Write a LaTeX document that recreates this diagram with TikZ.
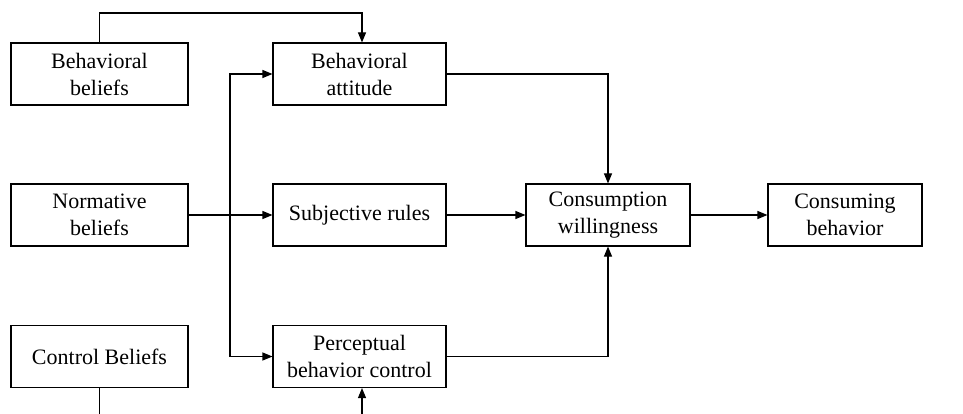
\documentclass[tikz,border=0pt]{standalone}
\usepackage{fontspec}
\setmainfont{Liberation Serif}
\usetikzlibrary{arrows.meta,calc}
\begin{document}
\begin{tikzpicture}[x=1pt,y=-1pt,
  box/.style={draw,line width=1.1pt,inner sep=0pt,align=center,
    font=\fontsize{22}{27}\selectfont},
  conn/.style={line width=1.1pt},
  arr/.style={conn,-{Triangle[length=10pt,width=8pt]}}]
\useasboundingbox (0,0) rectangle (963,414);
\node[box,minimum width=177pt,minimum height=62pt] (BB) at (99.5,74) {Behavioral\\beliefs};
\node[box,minimum width=177pt,minimum height=62pt] (NB) at (99.5,215) {Normative\\beliefs};
\node[box,minimum width=177pt,minimum height=62pt] (CB) at (99.5,356.5) {Control Beliefs};
\node[box,minimum width=173pt,minimum height=62pt] (BA) at (359.5,74) {Behavioral\\attitude};
\node[box,minimum width=173pt,minimum height=62pt] (SR) at (359.5,215) {Subjective rules};
\node[box,minimum width=173pt,minimum height=62pt] (PBC) at (359.5,356.5) {Perceptual\\behavior control};
\node[box,minimum width=164pt,minimum height=62pt] (CW) at (608,215) {Consumption\\willingness};
\node[box,minimum width=154pt,minimum height=62pt] (CBh) at (845,215) {Consuming\\behavior};
\coordinate (top) at (0,13);
\coordinate (j) at (230,215);
\coordinate (cbot) at (99.5,414);
\coordinate (pbot) at (362,414);
\draw[arr] (BB.north) -- (BB.north |- top) -| ($(BA.north)+(2.5,0)$);
\draw[arr] (NB.east) -- (SR.west);
\draw[arr] (j) |- (BA.west);
\draw[arr] (j) |- (PBC.west);
\draw[arr] (BA.east) -| (CW.north);
\draw[arr] (PBC.east) -| (CW.south);
\draw[arr] (SR.east) -- (CW.west);
\draw[arr] (CW.east) -- (CBh.west);
\draw[conn] (CB.south) -- (cbot);
\draw[arr] (pbot) -- ($(PBC.south)+(2.5,0)$);
\end{tikzpicture}
\end{document}
